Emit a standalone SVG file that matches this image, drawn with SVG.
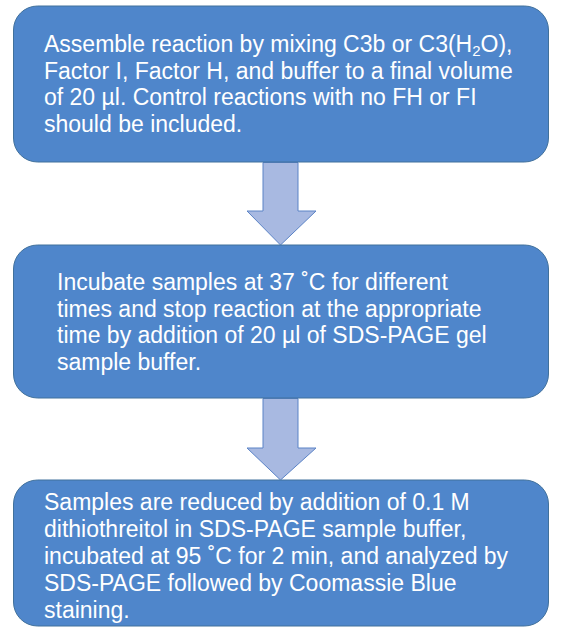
<svg xmlns="http://www.w3.org/2000/svg" width="564" height="634" viewBox="0 0 564 634">
<style>
.box{fill:#4F86CB;stroke:#41719C;stroke-width:1}
.txt{font-family:"Liberation Sans",Arial,sans-serif;font-size:23px;fill:#FFFFFF}
.arr{fill:#A8B9E1;stroke:#5B83C6;stroke-width:1}
</style>
<rect width="564" height="634" fill="#FFFFFF"/>
<g id="connectors">
<path class="arr" d="M263 162.5 H298 V211 H316 L280.5 245 L247 211 H263 Z"/>
<path class="arr" d="M263 398.5 H298 V448 H316 L280.5 480 L247 448 H263 Z"/>
</g>
<g id="node1">
<rect class="box" x="13.5" y="6" width="535" height="156" rx="24"/>
<text class="txt"><tspan x="44" y="52">Assemble reaction by mixing C3b or C3(H<tspan font-size="15" baseline-shift="-4">2</tspan>O),</tspan><tspan x="44" y="78.5">Factor I, Factor H, and buffer to a final volume</tspan><tspan x="44" y="105">of 20 µl. Control reactions with no FH or FI</tspan><tspan x="44" y="131.5">should be included.</tspan></text>
</g>
<g id="node2">
<rect class="box" x="13.5" y="245" width="535" height="153" rx="24"/>
<text class="txt"><tspan x="57" y="290">Incubate samples at 37 ˚C for different</tspan><tspan x="57" y="316.5">times and stop reaction at the appropriate</tspan><tspan x="57" y="343">time by addition of 20 µl of SDS-PAGE gel</tspan><tspan x="57" y="369.5">sample buffer.</tspan></text>
</g>
<g id="node3">
<rect class="box" x="13.5" y="480" width="535" height="146" rx="24"/>
<text class="txt"><tspan x="44" y="510">Samples are reduced by addition of 0.1 M</tspan><tspan x="44" y="537">dithiothreitol in SDS-PAGE sample buffer,</tspan><tspan x="44" y="564">incubated at 95 ˚C for 2 min, and analyzed by</tspan><tspan x="44" y="591">SDS-PAGE followed by Coomassie Blue</tspan><tspan x="44" y="618">staining.</tspan></text>
</g>
</svg>
